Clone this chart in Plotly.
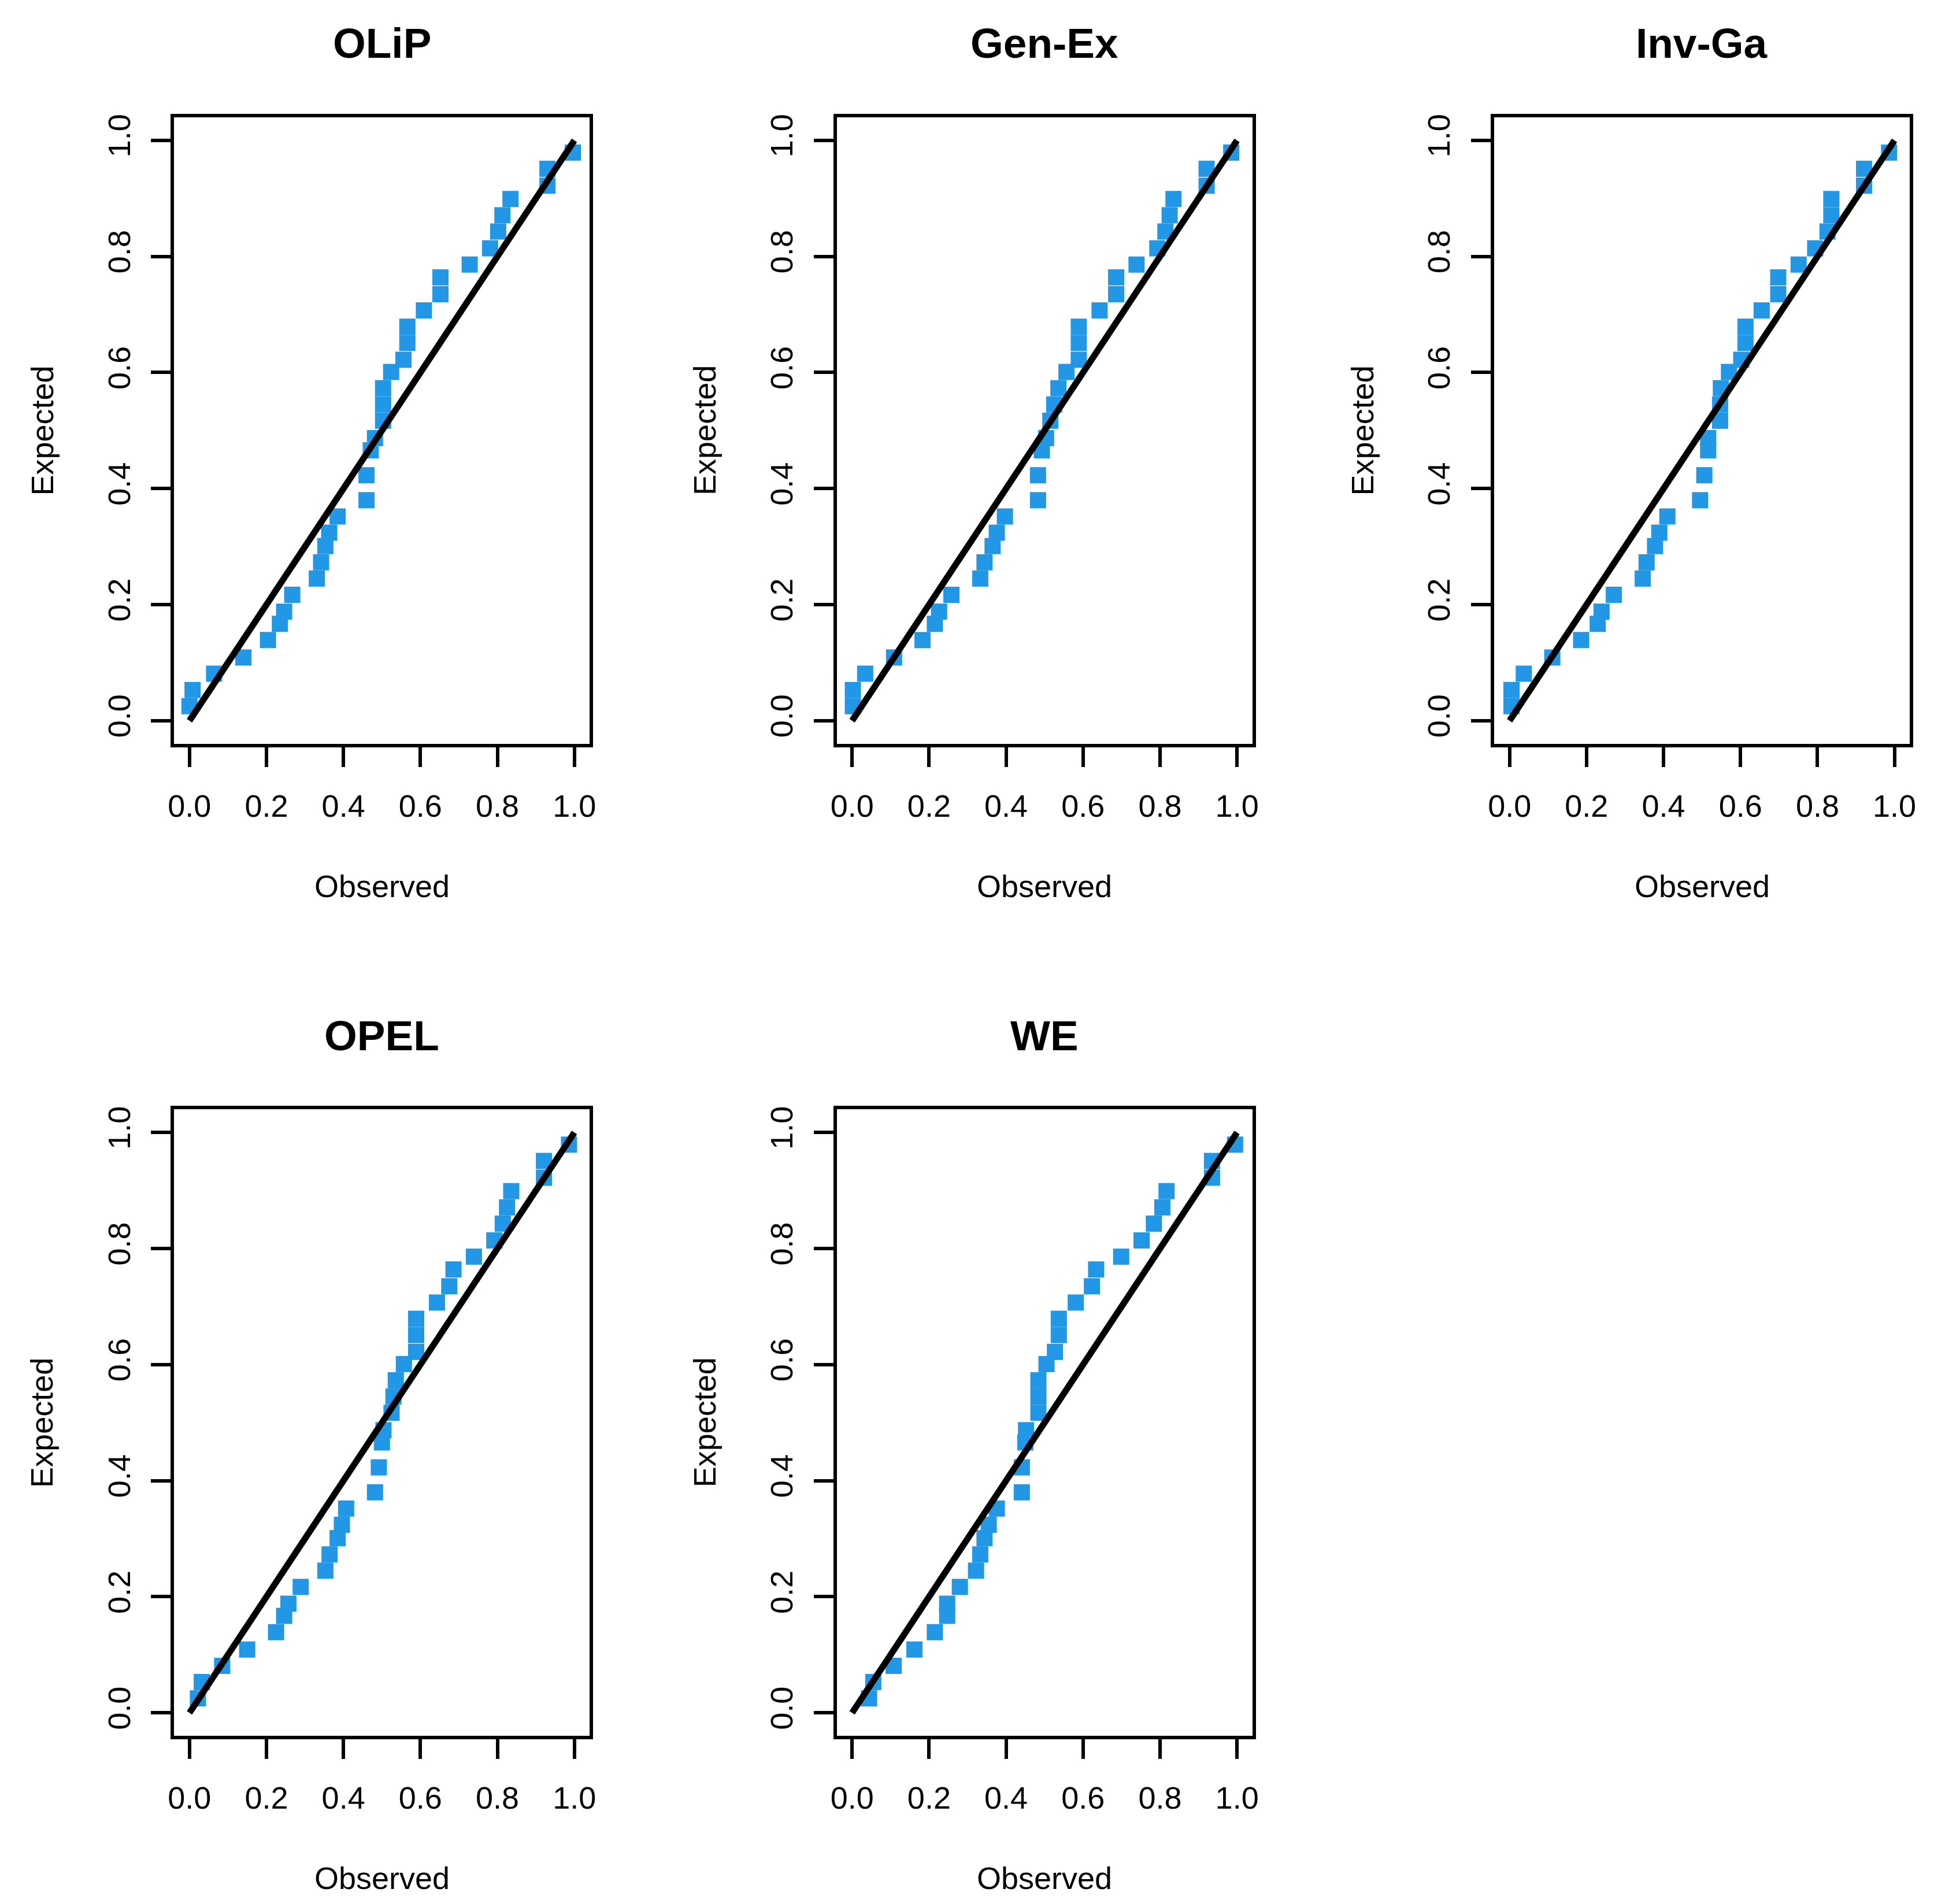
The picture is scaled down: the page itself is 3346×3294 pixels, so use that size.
import plotly.graph_objects as go

W, H = 3346, 3294

panel_titles = ["OLiP", "Gen-Ex", "Inv-Ga", "OPEL", "WE"]

# Expected (y) values, shared by all panels, top to bottom as read
expected_desc = [0.979, 0.951, 0.922, 0.899, 0.871, 0.843, 0.814, 0.786, 0.764, 0.735,
                 0.707, 0.679, 0.651, 0.622, 0.601, 0.573, 0.545, 0.517, 0.487, 0.466,
                 0.423, 0.380, 0.352, 0.324, 0.301, 0.273, 0.245, 0.217, 0.188, 0.167,
                 0.139, 0.109, 0.081, 0.053, 0.025]

# Observed (x) values per panel, matching expected_desc order
observed_olip = [0.996, 0.930, 0.930, 0.834, 0.813, 0.802, 0.781, 0.728, 0.652, 0.652,
                 0.609, 0.566, 0.566, 0.556, 0.524, 0.503, 0.503, 0.503, 0.482, 0.471,
                 0.460, 0.460, 0.385, 0.363, 0.353, 0.342, 0.331, 0.267, 0.246, 0.235,
                 0.204, 0.140, 0.064, 0.008, 0.000]
observed_genex = [0.985, 0.921, 0.921, 0.835, 0.825, 0.814, 0.793, 0.739, 0.686, 0.686,
                  0.643, 0.589, 0.589, 0.589, 0.557, 0.536, 0.525, 0.515, 0.504, 0.493,
                  0.483, 0.483, 0.397, 0.376, 0.365, 0.344, 0.333, 0.258, 0.226, 0.215,
                  0.183, 0.109, 0.034, 0.002, 0.002]
observed_invga = [0.986, 0.921, 0.921, 0.836, 0.836, 0.826, 0.794, 0.751, 0.698, 0.698,
                  0.655, 0.613, 0.613, 0.602, 0.570, 0.549, 0.547, 0.547, 0.516, 0.516,
                  0.506, 0.495, 0.410, 0.389, 0.378, 0.356, 0.346, 0.271, 0.239, 0.229,
                  0.186, 0.111, 0.037, 0.005, 0.005]
observed_opel = [0.986, 0.921, 0.921, 0.836, 0.825, 0.814, 0.792, 0.739, 0.686, 0.675,
                 0.643, 0.589, 0.589, 0.589, 0.557, 0.536, 0.530, 0.525, 0.504, 0.500,
                 0.492, 0.482, 0.407, 0.396, 0.385, 0.364, 0.353, 0.289, 0.257, 0.246,
                 0.225, 0.150, 0.085, 0.032, 0.022]
observed_we = [0.995, 0.935, 0.935, 0.817, 0.806, 0.784, 0.752, 0.699, 0.634, 0.623,
               0.581, 0.537, 0.537, 0.527, 0.505, 0.484, 0.484, 0.484, 0.452, 0.450,
               0.441, 0.441, 0.376, 0.355, 0.344, 0.333, 0.322, 0.280, 0.247, 0.247,
               0.215, 0.162, 0.108, 0.055, 0.044]

observed_sets = [observed_olip, observed_genex, observed_invga, observed_opel, observed_we]

tick_vals = [0.0, 0.2, 0.4, 0.6, 0.8, 1.0]
tick_text = ["0.0", "0.2", "0.4", "0.6", "0.8", "1.0"]
ref_line = [0.0, 1.0]
axis_range = [-0.04, 1.04]

x_label = "Observed"
y_label = "Expected"

BLUE = "#2297E6"
FONT = "Liberation Sans, Arial, Helvetica, sans-serif"
AX_SIZE = 54

# geometry (pixels)
col_x0 = [284, 1438, 2583]
box_w = 724
row_y0 = [190, 1909]
box_h = 1086

def fx(px):
    return px / W

def fy(py):
    return 1 - py / H

fig = go.Figure()
layout = dict(
    width=W, height=H,
    margin=dict(l=0, r=0, t=0, b=0),
    paper_bgcolor="white", plot_bgcolor="white",
    showlegend=False,
    font=dict(family=FONT, color="black", size=AX_SIZE),
)
annotations = []

for i, (title, obs) in enumerate(zip(panel_titles, observed_sets)):
    r, c = divmod(i, 3)
    n = i + 1
    xa = "x" if n == 1 else f"x{n}"
    ya = "y" if n == 1 else f"y{n}"
    x0 = col_x0[c]
    y0 = row_y0[r]
    fig.add_trace(go.Scatter(
        x=obs, y=expected_desc, xaxis=xa, yaxis=ya, mode="markers",
        marker=dict(symbol="square", size=28, color=BLUE, line=dict(width=0)),
        hoverinfo="skip"))
    fig.add_trace(go.Scatter(
        x=ref_line, y=ref_line, xaxis=xa, yaxis=ya, mode="lines",
        line=dict(color="black", width=11), hoverinfo="skip"))
    axcommon = dict(
        range=axis_range, showgrid=False, zeroline=False,
        showline=True, mirror=True, linecolor="black", linewidth=6,
        ticks="outside", ticklen=34, tickwidth=6, tickcolor="black",
        tickvals=tick_vals, ticktext=tick_text,
        tickfont=dict(family=FONT, size=AX_SIZE, color="black"),
        fixedrange=True,
    )
    layout["xaxis" if n == 1 else f"xaxis{n}"] = dict(
        axcommon, domain=[fx(x0), fx(x0 + box_w)], anchor=ya,
        ticklabelstandoff=21)
    layout["yaxis" if n == 1 else f"yaxis{n}"] = dict(
        axcommon, domain=[fy(y0 + box_h), fy(y0)], anchor=xa,
        tickangle=-90, ticklabelstandoff=15)
    cx = x0 + box_w / 2
    annotations.append(dict(
        text=f"<b>{title}</b>", x=fx(cx), y=fy(y0 - 128), xref="paper", yref="paper",
        showarrow=False, xanchor="center", yanchor="middle",
        font=dict(family=FONT, size=73, color="black")))
    annotations.append(dict(
        text=x_label, x=fx(cx), y=fy(y0 + 1332), xref="paper", yref="paper",
        showarrow=False, xanchor="center", yanchor="middle",
        font=dict(family=FONT, size=AX_SIZE, color="black")))
    annotations.append(dict(
        text=y_label, x=fx(x0 - 230), y=fy(y0 + box_h / 2), xref="paper", yref="paper",
        showarrow=False, xanchor="center", yanchor="middle", textangle=-90,
        font=dict(family=FONT, size=AX_SIZE, color="black")))

layout["annotations"] = annotations
fig.update_layout(**layout)
fig.write_html("out.html")
